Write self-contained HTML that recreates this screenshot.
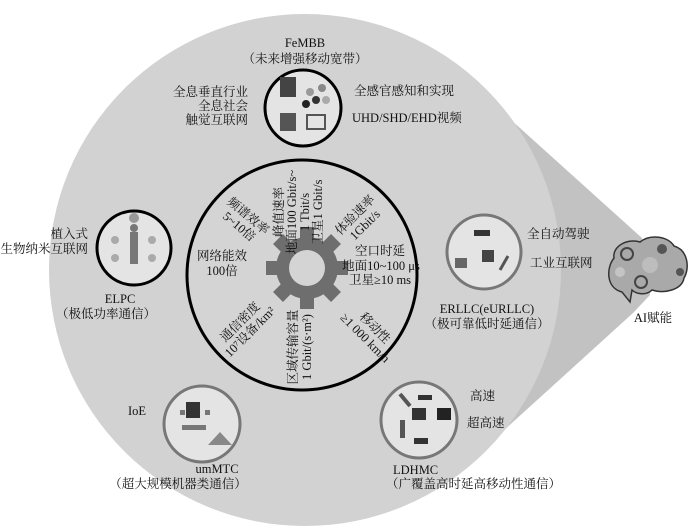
<!DOCTYPE html>
<html><head><meta charset="utf-8"><style>
html,body{margin:0;padding:0;background:#fff;}
svg{display:block;}
text{font-family:"Liberation Serif","Noto Serif CJK SC",serif;fill:#111;font-size:12.5px;}
</style></head><body>
<svg width="700" height="532" viewBox="0 0 700 532">
<rect width="700" height="532" fill="#fff"/>
<!-- wedge -->
<polygon points="480,92 642,238 650,295 633,313 480,452" fill="#c2c2c2"/>
<!-- big circle -->
<circle cx="305" cy="270" r="256" fill="#d2d2d2"/>
<!-- brain -->
<g>
<path d="M622,292 C606,288 606,268 614,258 C612,246 628,238 640,242 C650,234 668,236 674,246 C688,250 690,268 684,278 C682,290 664,294 652,290 C646,296 636,294 632,290 L630,302 Z" fill="#a9a9a9" stroke="#333" stroke-width="1.5"/>
<circle cx="627" cy="254" r="6" fill="none" stroke="#444" stroke-width="2"/>
<circle cx="662" cy="249" r="5" fill="#555"/>
<circle cx="680" cy="272" r="4" fill="#555"/>
<circle cx="641" cy="282" r="6" fill="none" stroke="#444" stroke-width="2"/>
<circle cx="650" cy="265" r="8" fill="#bdbdbd"/>
<circle cx="620" cy="272" r="5" fill="#c4c4c4"/>
</g>
<text x="653" y="322" text-anchor="middle">AI赋能</text>

<!-- inner circle -->
<circle cx="302" cy="275" r="115" fill="#d4d4d4" stroke="#000" stroke-width="3"/>
<!-- gear -->
<g transform="translate(307,268)" fill="#6e6e6e">
<circle r="31"/>
<g id="t"><rect x="-7" y="-41" width="14" height="14"/></g>
<use href="#t" transform="rotate(45)"/><use href="#t" transform="rotate(90)"/><use href="#t" transform="rotate(135)"/>
<use href="#t" transform="rotate(180)"/><use href="#t" transform="rotate(225)"/><use href="#t" transform="rotate(270)"/><use href="#t" transform="rotate(315)"/>
<circle r="18" fill="#d4d4d4"/>
</g>

<!-- inner labels -->
<g transform="translate(243,222) rotate(40)" text-anchor="middle">
<text y="-4">频谱效率</text><text y="10">5~10倍</text></g>
<g transform="translate(297,212) rotate(-90)" text-anchor="middle">
<text y="-14">峰值速率</text><text y="-1">地面100 Gbit/s~</text><text y="12">1 Tbit/s</text><text y="25">卫星1 Gbit/s</text></g>
<g transform="translate(360,220) rotate(-45)" text-anchor="middle">
<text y="-3">体验速率</text><text y="11">1Gbit/s</text></g>
<g text-anchor="middle"><text x="380" y="255">空口时延</text><text x="381" y="270">地面10~100 μs</text><text x="380" y="284">卫星≥10 ms</text></g>
<g transform="translate(370,333) rotate(45)" text-anchor="middle">
<text y="-3">移动性</text><text y="11">≥1 000 km/h</text></g>
<g transform="translate(300,347) rotate(-90)" text-anchor="middle">
<text y="-3">区域传输容量</text><text y="11">1 Gbit/(s·m²)</text></g>
<g transform="translate(245,327) rotate(-45)" text-anchor="middle">
<text y="-3">通信密度</text><text y="11">10⁷设备/km²</text></g>
<g text-anchor="middle"><text x="222" y="260">网络能效</text><text x="222" y="275">100倍</text></g>

<!-- FeMBB -->
<circle cx="303" cy="108" r="38" fill="#e4e4e4" stroke="#000" stroke-width="3"/>
<rect x="280" y="77" width="16" height="20" fill="#444"/><rect x="280" y="113" width="16" height="18" fill="#555"/>
<circle cx="310" cy="92" r="4" fill="#999"/><circle cx="322" cy="88" r="4" fill="#888"/><circle cx="316" cy="100" r="4" fill="#333"/><circle cx="326" cy="100" r="4" fill="#aaa"/><circle cx="306" cy="104" r="4" fill="#222"/>
<rect x="307" y="115" width="18" height="14" fill="none" stroke="#555" stroke-width="2"/>
<g text-anchor="middle"><text x="305" y="47">FeMBB</text><text x="305" y="63">（未来增强移动宽带）</text></g>
<g text-anchor="end"><text x="248" y="96">全息垂直行业</text><text x="248" y="110">全息社会</text><text x="248" y="124">触觉互联网</text></g>
<text x="354" y="95">全感官感知和实现</text>
<text x="352" y="122">UHD/SHD/EHD视频</text>

<!-- ELPC -->
<circle cx="134" cy="248" r="37" fill="#e4e4e4" stroke="#000" stroke-width="3"/>
<rect x="130" y="232" width="8" height="32" fill="#777"/><circle cx="134" cy="228" r="4" fill="#777"/><circle cx="134" cy="218" r="5" fill="#999"/>
<circle cx="115" cy="240" r="4" fill="#aaa"/><circle cx="152" cy="240" r="4" fill="#aaa"/><circle cx="115" cy="258" r="4" fill="#aaa"/><circle cx="152" cy="258" r="4" fill="#aaa"/>
<g text-anchor="end"><text x="88" y="238">植入式</text><text x="88" y="253">生物纳米互联网</text></g>
<g text-anchor="middle"><text x="120" y="303">ELPC</text><text x="106" y="318">（极低功率通信）</text></g>

<!-- ERLLC -->
<circle cx="484" cy="252" r="37" fill="#e4e4e4" stroke="#777" stroke-width="3"/>
<rect x="474" y="230" width="16" height="6" fill="#333"/><rect x="482" y="250" width="12" height="12" fill="#444"/><rect x="455" y="258" width="12" height="10" fill="#666"/><path d="M500,270 L508,256" stroke="#555" stroke-width="3"/>
<text x="527" y="238">全自动驾驶</text><text x="530" y="267">工业互联网</text>
<g text-anchor="middle"><text x="487" y="313">ERLLC(eURLLC)</text><text x="487" y="328">（极可靠低时延通信）</text></g>

<!-- umMTC -->
<circle cx="202" cy="424" r="38" fill="#e4e4e4" stroke="#777" stroke-width="3"/>
<rect x="186" y="402" width="14" height="16" fill="#333"/><rect x="182" y="425" width="24" height="5" fill="#777"/><path d="M208,445 L220,432 L232,445 Z" fill="#888"/><rect x="180" y="410" width="5" height="5" fill="#777"/><rect x="205" y="410" width="5" height="5" fill="#777"/>
<text x="128" y="415">IoE</text>
<g text-anchor="middle"><text x="217" y="473">umMTC</text><text x="178" y="488">（超大规模机器类通信）</text></g>

<!-- LDHMC -->
<circle cx="419" cy="420" r="38" fill="#e4e4e4" stroke="#777" stroke-width="3"/>
<path d="M400,394 L410,406" stroke="#555" stroke-width="4"/><rect x="418" y="395" width="14" height="5" fill="#333"/><rect x="412" y="408" width="14" height="12" fill="#333"/><rect x="437" y="408" width="14" height="12" fill="#222"/><rect x="400" y="420" width="5" height="18" fill="#555"/><rect x="414" y="438" width="14" height="6" fill="#333"/>
<text x="470" y="400">高速</text><text x="467" y="427">超高速</text>
<text x="393" y="474">LDHMC</text><text x="386" y="488">（广覆盖高时延高移动性通信）</text>
</svg>
</body></html>
